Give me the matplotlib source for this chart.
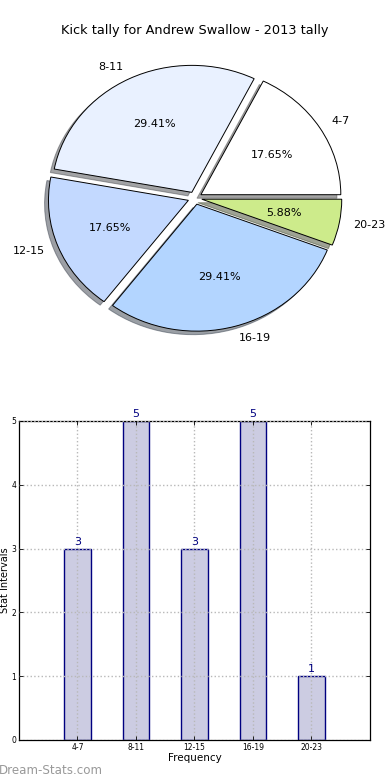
import matplotlib
matplotlib.use("Agg")
import matplotlib.pyplot as plt

categories = ["4-7", "8-11", "12-15", "16-19", "20-23"]
counts = [3, 5, 3, 5, 1]
pie_colors = ["#ffffff", "#e9f1ff", "#c3d9ff", "#b3d5ff", "#cdeb8b"]
yticks = [0, 1, 2, 3, 4, 5]
title = "Kick tally for Andrew Swallow - 2013 tally"

fig = plt.figure(figsize=(3.9, 7.8), dpi=100)

# ---- Pie ----
ax1 = fig.add_axes([0.0513, 0.5426, 0.897, 0.407])
wedges, texts, autotexts = ax1.pie(
    counts, labels=categories, colors=pie_colors, explode=[0.05] * 5,
    autopct="%1.2f%%", shadow=True, startangle=0, labeldistance=1.1,
    pctdistance=0.6, wedgeprops=dict(edgecolor="black", linewidth=0.7),
    textprops=dict(fontsize=8))
ax1.set_aspect("auto")
ax1.set_xlim(-1.25, 1.25)
ax1.set_ylim(-1.25, 1.25)
ax1.set_title(title, fontsize=9.3, pad=4)

# ---- Bars ----
ax2 = fig.add_axes([0.0487, 0.0513, 0.9, 0.409])
xpos = list(range(1, len(categories) + 1))
bars = ax2.bar(xpos, counts, width=0.45, color="#ccccE2", edgecolor="#000080",
               linewidth=1.0, zorder=1)
for x, v in zip(xpos, counts):
    ax2.text(x, v + 0.03, str(v), ha="center", va="bottom", fontsize=8,
             color="#000080")
ax2.set_xlim(0, 6)
ax2.set_ylim(0, 5)
ax2.set_xticks(xpos)
ax2.set_xticklabels(categories)
ax2.set_yticks(yticks)
ax2.tick_params(direction="in", top=True, right=True, labelsize=5.5,
                length=3, width=0.6, pad=2)
ax2.grid(True, color="#b8b8b8", linestyle=":", linewidth=1.0, zorder=2)
ax2.set_axisbelow(False)
ax2.set_xlabel("Frequency", fontsize=7.5, labelpad=1)
ax2.set_ylabel("Stat Intervals", fontsize=7)
ax2.yaxis.set_label_coords(-0.026, 0.5)
for s in ax2.spines.values():
    s.set_linewidth(0.9)

fig.text(-0.003, 0.0128, "Dream-Stats.com", fontsize=8.6, color="#999999",
         ha="left", va="center")

fig.savefig("out.png", dpi=100)
